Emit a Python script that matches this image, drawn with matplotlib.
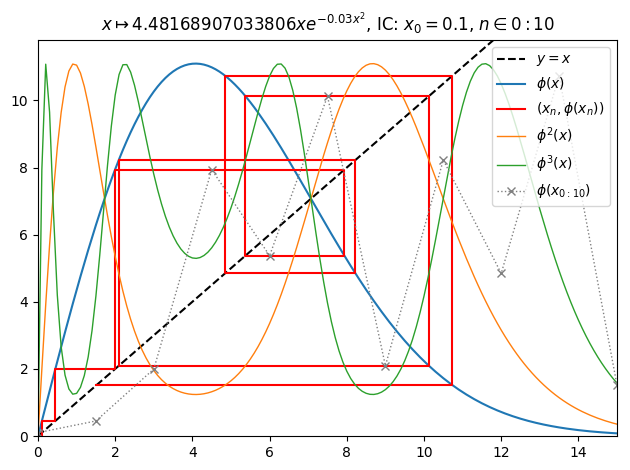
import numpy as np
import matplotlib
matplotlib.use("Agg")
import matplotlib.pyplot as plt

a = 4.48168907033806
b = 0.03
x0 = 0.1
n_iter = 10

def phi(x):
    return a * x * np.exp(-b * x**2)

xs = [x0]
for _ in range(n_iter):
    xs.append(phi(xs[-1]))
xs = np.array(xs)

fig, ax = plt.subplots(figsize=(6.3, 4.7), dpi=100)
x = np.linspace(0, 15, 151)
ax.plot(x, x, 'k--', label='$y=x$')
ax.plot(x, phi(x), color='C0', label=r'$\phi(x)$')
# cobweb
cx, cy = [xs[0]], [0]
for i in range(n_iter):
    cx += [xs[i], xs[i + 1]]
    cy += [xs[i + 1], xs[i + 1]]
ax.plot(cx, cy, 'r-', label=r'$(x_n,\phi(x_n))$')
ax.plot(x, phi(phi(x)), color='C1', lw=1, label=r'$\phi^2(x)$')
ax.plot(x, phi(phi(phi(x))), color='C2', lw=1, label=r'$\phi^3(x)$')
ax.plot(np.linspace(0, 15, n_iter + 1), xs, ':x', color='gray', lw=1,
        label=r'$\phi(x_{0:10})$')
ax.set_xlim(0, 15)
ax.set_ylim(0, 11.8)
ax.set_title(r'$x \mapsto 4.48168907033806xe^{-0.03x^2}$, IC: $x_0=0.1$, $n \in 0:10$')
ax.legend(loc='upper right')
fig.subplots_adjust(left=38/630, right=617/630, top=1-40/470, bottom=1-436/470)
fig.savefig('out.png')
